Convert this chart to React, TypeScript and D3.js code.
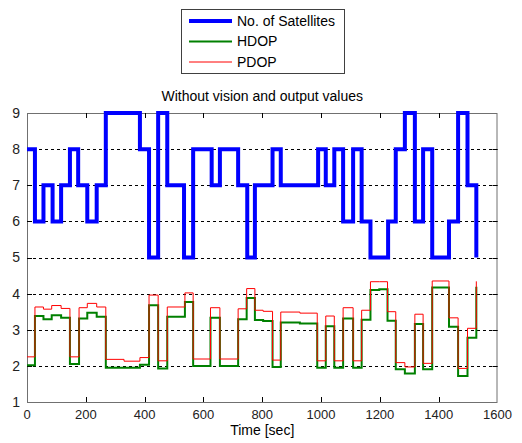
import * as d3 from 'd3';

// number of satellites (stairs: value holds from time until next time)
const satTime = [0, 27, 56, 87, 116, 146, 174, 205, 237, 268, 384, 415, 446, 477, 534, 565, 628, 656, 718, 749, 775, 835, 863, 990, 1016, 1045, 1075, 1109, 1138, 1168, 1228, 1254, 1285, 1319, 1347, 1378, 1435, 1466, 1498, 1528];
const satCount = [8, 6, 7, 6, 7, 8, 7, 6, 7, 9, 8, 5, 9, 7, 5, 8, 7, 8, 7, 5, 7, 8, 7, 8, 7, 8, 6, 8, 6, 5, 6, 8, 9, 6, 8, 5, 6, 9, 7, 5];

// DOP values
const dopTime = [0, 27, 56, 84, 116, 146, 177, 205, 237, 268, 330, 384, 415, 446, 477, 537, 565, 624, 656, 718, 747, 775, 803, 835, 863, 928, 987, 1016, 1045, 1075, 1109, 1138, 1168, 1198, 1226, 1254, 1285, 1319, 1347, 1378, 1435, 1466, 1498, 1528];
const hdop = [2.02, 3.38, 3.29, 3.4, 3.33, 2.05, 3.31, 3.47, 3.36, 1.95, 1.95, 2.03, 3.68, 1.93, 3.36, 3.77, 2.0, 3.33, 2.0, 3.29, 3.88, 3.27, 3.24, 1.97, 3.2, 3.17, 1.95, 3.1, 1.95, 3.31, 1.95, 3.28, 4.1, 4.12, 3.25, 1.91, 1.79, 3.16, 1.91, 4.17, 3.08, 1.72, 2.78, 4.19];
const pdop = [2.25, 3.63, 3.57, 3.67, 3.59, 2.25, 3.61, 3.73, 3.63, 2.18, 2.13, 2.23, 3.96, 2.14, 3.63, 4.02, 2.19, 3.61, 2.19, 3.58, 4.14, 3.54, 3.51, 2.16, 3.49, 3.46, 2.14, 3.38, 2.14, 3.61, 2.14, 3.54, 4.33, 4.33, 3.5, 2.09, 1.97, 3.43, 2.07, 4.35, 3.33, 1.93, 3.04, 4.34];

const xTicks = [0, 200, 400, 600, 800, 1000, 1200, 1400, 1600];
const yTicks = [1, 2, 3, 4, 5, 6, 7, 8, 9];

const legendItems = [
  { label: 'No. of Satellites', color: '#0000ff', width: 4 },
  { label: 'HDOP', color: '#008000', width: 2 },
  { label: 'PDOP', color: '#ff0000', width: 1 },
];

const W = 522;
const H = 443;
const left = 27, right = 497.5, top = 113, bottom = 402;
const font = 'Liberation Sans, Arial, sans-serif';

export default function App() {
  const x = d3.scaleLinear().domain([0, 1600]).range([left, right]);
  const y = d3.scaleLinear().domain([1, 9]).range([bottom, top]);

  const line = d3.line<[number, number]>()
    .x(d => x(d[0]))
    .y(d => y(d[1]))
    .curve(d3.curveStepAfter);

  const satPath = line(satTime.map((t, i) => [t, satCount[i]]) as [number, number][]) || '';
  const hPath = line(dopTime.map((t, i) => [t, hdop[i]]) as [number, number][]) || '';
  const pPath = line(dopTime.map((t, i) => [t, pdop[i]]) as [number, number][]) || '';

  return (
    <svg width={W} height={H} style={{ position: 'absolute', left: 0, top: 0, background: '#fff' }} fontFamily={font}>
      {/* grid */}
      {yTicks.slice(1, -1).map(v => (
        <line key={'g' + v} x1={left} x2={right} y1={Math.round(y(v)) + 0.5} y2={Math.round(y(v)) + 0.5}
          stroke="#000" strokeWidth={1} strokeDasharray="3,3" />
      ))}
      {/* frame */}
      <rect x={left + 0.5} y={top + 0.5} width={right - left - 1} height={bottom - top} fill="none" stroke="#707070" strokeWidth={1} />
      {/* ticks */}
      {xTicks.slice(1, -1).map(v => (
        <g key={'xt' + v}>
          <line x1={Math.round(x(v)) + 0.5} x2={Math.round(x(v)) + 0.5} y1={top} y2={top + 5} stroke="#000" />
          <line x1={Math.round(x(v)) + 0.5} x2={Math.round(x(v)) + 0.5} y1={bottom} y2={bottom - 5} stroke="#000" />
        </g>
      ))}
      {yTicks.slice(1, -1).map(v => (
        <g key={'yt' + v}>
          <line x1={left} x2={left + 5} y1={Math.round(y(v)) + 0.5} y2={Math.round(y(v)) + 0.5} stroke="#000" />
          <line x1={right - 5} x2={right} y1={Math.round(y(v)) + 0.5} y2={Math.round(y(v)) + 0.5} stroke="#000" />
        </g>
      ))}
      {/* tick labels */}
      {xTicks.map(v => (
        <text key={'xl' + v} x={x(v)} y={419} textAnchor="middle" fontSize={13} fill="#222">{v}</text>
      ))}
      {yTicks.map(v => (
        <text key={'yl' + v} x={20} y={y(v)} dy="0.35em" textAnchor="end" fontSize={14} fill="#222">{v}</text>
      ))}
      {/* data */}
      <path d={satPath} fill="none" stroke="#0000ff" strokeWidth={4} />
      <path d={hPath} fill="none" stroke="#008000" strokeWidth={2} />
      <path d={pPath} fill="none" stroke="#ff0000" strokeWidth={1} />
      {/* title and axis label */}
      <text x={(left + right) / 2} y={101} textAnchor="middle" fontSize={14} fill="#000">Without vision and output values</text>
      <text x={(left + right) / 2} y={435} textAnchor="middle" fontSize={14} fill="#000">Time [sec]</text>
      {/* legend */}
      <rect x={181.5} y={9.5} width={163} height={64} fill="#fff" stroke="#404040" strokeWidth={1} />
      {legendItems.map((d, i) => (
        <g key={d.label} transform={`translate(0, ${21 + i * 20.5})`}>
          <line x1={189} x2={232} y1={0} y2={0} stroke={d.color} strokeWidth={d.width} />
          <text x={237} y={0} dy="0.35em" fontSize={14} fill="#000">{d.label}</text>
        </g>
      ))}
    </svg>
  );
}
